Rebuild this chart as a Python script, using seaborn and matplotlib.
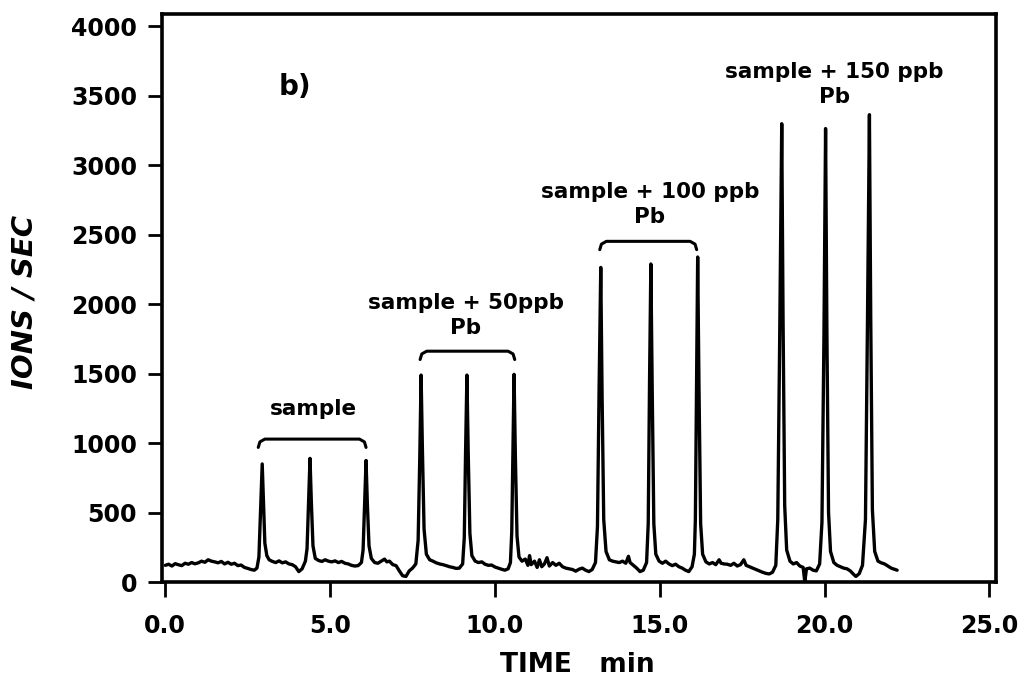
import matplotlib
matplotlib.use("Agg")
import matplotlib.pyplot as plt
import seaborn as sns
import pandas as pd

# chromatogram trace (time in min, ions/sec)
trace_time = [
    0.00, 0.10, 0.20, 0.30, 0.40, 0.50, 0.60, 0.70, 0.80, 0.90, 1.00, 1.10, 1.20, 1.30, 1.40,
    1.50, 1.60, 1.70, 1.80, 1.90, 2.00, 2.10, 2.20, 2.30, 2.40, 2.50, 2.60, 2.70, 2.78,
    2.84, 2.89, 2.94, 2.98, 3.02, 3.08, 3.15,
    3.25, 3.35, 3.45, 3.55, 3.65, 3.75, 3.85, 3.95, 4.05, 4.15, 4.25,
    4.30, 4.35, 4.39, 4.43, 4.48, 4.55,
    4.65, 4.75, 4.85, 4.95, 5.05, 5.15, 5.25, 5.35, 5.45, 5.55, 5.65, 5.75, 5.85, 5.95,
    6.00, 6.05, 6.09, 6.13, 6.18, 6.25,
    6.35, 6.45, 6.55, 6.65, 6.72, 6.80, 6.90, 7.00, 7.10, 7.20, 7.30, 7.40, 7.50, 7.60,
    7.67, 7.72, 7.76, 7.80, 7.85, 7.92,
    8.02, 8.12, 8.22, 8.32, 8.42, 8.52, 8.62, 8.72, 8.82, 8.92, 9.02,
    9.07, 9.11, 9.15, 9.19, 9.24, 9.30,
    9.40, 9.50, 9.60, 9.70, 9.80, 9.90, 10.00, 10.10, 10.20, 10.30, 10.40, 10.47,
    10.51, 10.55, 10.58, 10.62, 10.67, 10.73,
    10.82, 10.92, 11.00, 11.05, 11.10, 11.20, 11.28, 11.35, 11.42, 11.50, 11.58, 11.65, 11.75,
    11.85, 11.95, 12.05, 12.15, 12.25, 12.35, 12.45, 12.55, 12.65, 12.75, 12.85, 12.95, 13.05,
    13.11, 13.16, 13.21, 13.25, 13.30, 13.37,
    13.47, 13.57, 13.67, 13.77, 13.87, 13.97, 14.05, 14.10, 14.20, 14.30, 14.40, 14.50, 14.60,
    14.65, 14.69, 14.73, 14.77, 14.82, 14.88,
    14.98, 15.08, 15.18, 15.28, 15.38, 15.48, 15.58, 15.68, 15.78, 15.88, 15.98, 16.05,
    16.08, 16.12, 16.15, 16.19, 16.24, 16.30,
    16.40, 16.50, 16.60, 16.70, 16.80, 16.86, 16.95, 17.05, 17.15, 17.25, 17.35, 17.45, 17.55,
    17.62, 17.72, 17.82, 17.92, 18.02, 18.12, 18.22, 18.32, 18.42, 18.52,
    18.58, 18.64, 18.70, 18.74, 18.79, 18.85,
    18.95, 19.05, 19.15, 19.25, 19.35, 19.40, 19.45, 19.55, 19.65, 19.75, 19.85,
    19.92, 19.98, 20.03, 20.07, 20.12, 20.18,
    20.28, 20.38, 20.48, 20.58, 20.68, 20.78, 20.88, 20.95, 21.05, 21.15,
    21.24, 21.30, 21.36, 21.40, 21.45, 21.52,
    21.62, 21.72, 21.82, 21.92, 22.02, 22.12, 22.20,
]
trace_ions = [
    120, 128, 115, 132, 124, 118, 135, 128, 140, 131, 138, 150, 142, 160, 150,
    145, 138, 148, 130, 142, 128, 135, 118, 122, 105, 98, 90, 85, 100,
    180, 520, 850, 560, 280, 190, 160,
    148, 140, 152, 138, 145, 130, 125, 110, 75, 95, 150,
    240, 600, 890, 580, 260, 170,
    155, 148, 160, 150, 145, 152, 140, 148, 135, 130, 120, 115, 118, 140,
    230, 580, 875, 560, 260, 170,
    140, 135, 150, 165, 145, 150, 125, 118, 80, 45, 40, 80, 100, 130,
    300, 900, 1490, 950, 380, 200,
    160, 150, 138, 130, 125, 118, 110, 105, 98, 100, 130,
    320, 950, 1490, 920, 350, 190,
    150, 140, 145, 128, 120, 122, 108, 100, 92, 85, 95, 140,
    360, 980, 1495, 900, 330, 180,
    150, 165, 120, 190, 125, 150, 105, 160, 110, 130, 175, 115, 140,
    120, 135, 110, 100, 95, 90, 78, 92, 100, 85, 75, 90, 140,
    400, 1400, 2265, 1350, 450, 220,
    160, 150, 145, 140, 150, 135, 185, 140, 120, 100, 75, 85, 140,
    420, 1450, 2290, 1400, 420, 200,
    150, 135, 150, 130, 118, 128, 110, 100, 85, 75, 110, 200,
    450, 1500, 2340, 1400, 420, 200,
    145, 130, 140, 125, 160, 135, 130, 128, 120, 135, 115, 125, 160,
    120, 110, 100, 90, 80, 70, 62, 58, 70, 120,
    450, 1800, 3300, 1900, 550, 230,
    150, 130, 140, 115, 105, 0, 95, 100, 85, 80, 130,
    430, 1750, 3265, 1800, 500, 220,
    140, 120, 110, 100, 95, 80, 55, 40, 60, 120,
    450, 1850, 3365, 1900, 520, 220,
    150, 138, 130, 115, 100, 92, 85,
]

x_ticks = [0, 5, 10, 15, 20, 25]
x_tick_labels = ["0.0", "5.0", "10.0", "15.0", "20.0", "25.0"]
y_ticks = [0, 500, 1000, 1500, 2000, 2500, 3000, 3500, 4000]

# group annotations: label lines, first/last peak time of the group
group_labels = ["sample", "sample + 50ppb\nPb", "sample + 100 ppb\nPb", "sample + 150 ppb\nPb"]
group_label_x = [4.48, 9.12, 14.70, 20.30]
group_label_y = [1245, 1920, 2720, 3580]
bracket_start = [2.82, 7.73, 13.18, None]
bracket_end = [6.09, 10.60, 16.12, None]
bracket_y = [1029, 1662, 2453, None]

sns.set_style("ticks")
plt.rcParams["font.family"] = ["DejaVu Sans"]
plt.rcParams["font.weight"] = "bold"
plt.rcParams["text.color"] = "black"
plt.rcParams["axes.edgecolor"] = "black"
plt.rcParams["xtick.color"] = "black"
plt.rcParams["ytick.color"] = "black"

df = pd.DataFrame({"time": trace_time, "ions": trace_ions})

fig = plt.figure(figsize=(10.32, 6.9), dpi=100)
ax = fig.add_axes([162 / 1032, 1 - 582 / 690, (996 - 162) / 1032, (582 - 14) / 690])

sns.lineplot(data=df, x="time", y="ions", ax=ax, color="black", linewidth=2.4,
             estimator=None, sort=False)

ax.set_xlim(-0.1, 25.2)
ax.set_ylim(0, 4090)
ax.set_xticks(x_ticks)
ax.set_xticklabels(x_tick_labels)
ax.set_yticks(y_ticks)
ax.tick_params(axis="x", length=11, width=2, pad=12, labelsize=17, colors="black")
ax.tick_params(axis="y", length=10, width=2, pad=8, labelsize=17, colors="black")
for lab in ax.get_xticklabels() + ax.get_yticklabels():
    lab.set_fontweight("bold")
for s in ax.spines.values():
    s.set_linewidth(2.6)
    s.set_color("black")
ax.set_xlabel("")
ax.set_ylabel("")

fig.text(25 / 1032, 1 - 302 / 690, "IONS / SEC", rotation=90, ha="center", va="center",
         fontsize=21, fontweight="bold", fontstyle="italic")
fig.text(577 / 1032, 1 - 665 / 690, "TIME   min", ha="center", va="center",
         fontsize=19, fontweight="bold")

ax.text(3.94, 3561, "b)", fontsize=20, fontweight="bold", ha="center", va="center")

for i, lab in enumerate(group_labels):
    ax.text(group_label_x[i], group_label_y[i], lab, ha="center", va="center",
            fontsize=15.5, fontweight="bold", linespacing=1.3)
    if bracket_start[i] is not None:
        x0, x1, yb = bracket_start[i], bracket_end[i], bracket_y[i]
        ax.plot([x0, x0 + 0.05, x0 + 0.2, x1 - 0.2, x1 - 0.05, x1],
                [yb - 60, yb - 20, yb, yb, yb - 20, yb - 60],
                color="black", linewidth=2.2)

fig.savefig("out.png", dpi=100)
